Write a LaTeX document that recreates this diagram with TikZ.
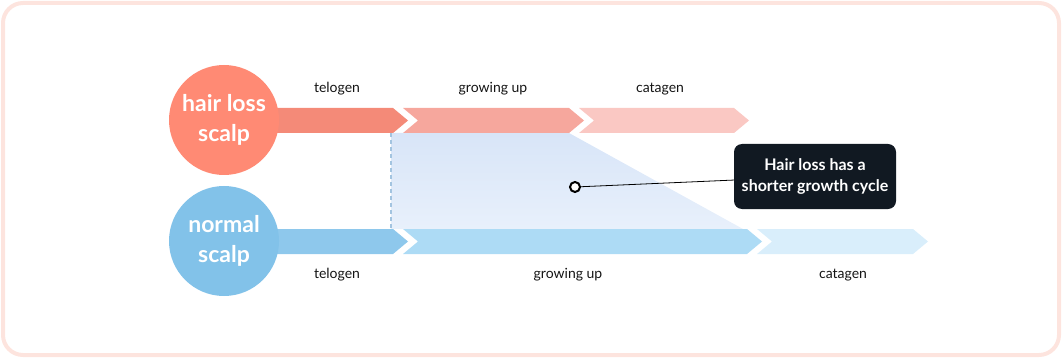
\documentclass[tikz,border=0pt]{standalone}
\usepackage{fontspec}
\setmainfont{Lato}
\usetikzlibrary{positioning}

\definecolor{frame}{HTML}{FDE4DE}
\definecolor{losscirc}{HTML}{FF8A74}
\definecolor{lossA}{HTML}{F48A78}
\definecolor{lossB}{HTML}{F6A79D}
\definecolor{lossC}{HTML}{FAC8C3}
\definecolor{normcirc}{HTML}{82C2E9}
\definecolor{normA}{HTML}{8EC8EC}
\definecolor{normB}{HTML}{ADDBF5}
\definecolor{normC}{HTML}{D9EEFB}
\definecolor{notebg}{HTML}{111922}
\definecolor{gapblue}{HTML}{A3C4E0}
\definecolor{areatop}{HTML}{D8E5F8}
\definecolor{areabot}{HTML}{E8F0FB}

\begin{document}
\begin{tikzpicture}[x=1pt, y=-1pt, font=\fontsize{14}{16}\selectfont,
  scalp/.style={circle, minimum size=110pt, inner sep=0pt, text=white, align=center,
    font=\fontsize{23}{30}\selectfont\bfseries},
  phase/.style={anchor=base, text=black!92}]
\useasboundingbox (0,0) rectangle (1062,358);
\draw[line width=4pt, frame, rounded corners=20pt] (3,3) rectangle (1059,355);
% shorter cycle area
\shade[top color=areatop, bottom color=areabot]
  (391,133) -- (569,133) -- (743,229) -- (391,229) -- cycle;
\draw[gapblue, line width=1.2pt, dash pattern=on 4pt off 3pt] (391,133) -- (391,229);
% hair loss row
\fill[lossA] (224,108) -- (393,108) -- (408,120.5) -- (393,133) -- (224,133) -- cycle;
\fill[lossB] (403,108) -- (569,108) -- (584,120.5) -- (569,133) -- (403,133) -- (418,120.5) -- cycle;
\fill[lossC] (579,108) -- (734,108) -- (749,120.5) -- (734,133) -- (579,133) -- (594,120.5) -- cycle;
% normal row
\fill[normA] (224,229) -- (393,229) -- (408,241.5) -- (393,254) -- (224,254) -- cycle;
\fill[normB] (403,229) -- (747,229) -- (762,241.5) -- (747,254) -- (403,254) -- (418,241.5) -- cycle;
\fill[normC] (757,229) -- (913,229) -- (928,241.5) -- (913,254) -- (757,254) -- (772,241.5) -- cycle;
\node[scalp, fill=losscirc] (loss) at (224,120) {hair loss\\scalp};
\node[scalp, fill=normcirc] (normal) at (224,241) {normal\\scalp};
\node[phase] (lossTel) at (337,92.5) {telogen};
\node[phase] (lossGrow) at (493,92.5) {growing up};
\node[phase] (lossCat) at (660,92.5) {catagen};
\node[phase] (normTel) at (337,278) {telogen};
\node[phase] (normGrow) at (568,278) {growing up};
\node[phase] (normCat) at (843,278) {catagen};
% callout
\node[circle, draw=black, line width=2pt, fill=white, minimum size=10pt, inner sep=0pt] (dot) at (575,187) {};
\node[fill=notebg, rounded corners=8pt, minimum width=162pt, minimum height=65pt, text=white,
  align=center, font=\fontsize{16}{21}\selectfont\bfseries] (note) at (815,176.5) {Hair loss has a\\shorter growth cycle};
\draw[line width=0.8pt] (dot) -- (note);
\end{tikzpicture}
\end{document}
